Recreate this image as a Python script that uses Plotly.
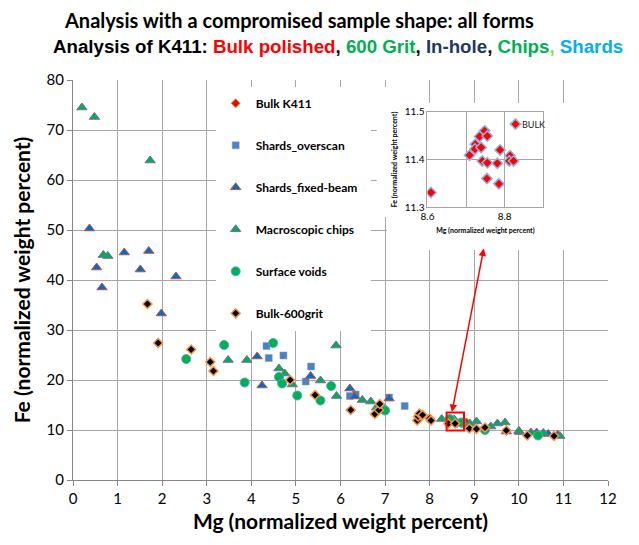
import plotly.graph_objects as go

# Polished bulk K411 reference measurements (Mg, Fe in normalized wt%)
bulk_k411_mg = [8.609, 8.709, 8.724, 8.723, 8.739, 8.735, 8.748, 8.755, 8.742, 8.755,
                8.754, 8.781, 8.785, 8.788, 8.814, 8.812, 8.823, 8.828]
bulk_k411_fe = [11.331, 11.409, 11.432, 11.422, 11.425, 11.448, 11.460, 11.449, 11.397, 11.393,
                11.360, 11.392, 11.349, 11.420, 11.408, 11.397, 11.397, 11.474]
bulk_label = "BULK"

overscan_mg = [4.34, 4.39, 4.72, 5.22, 5.34, 6.21, 6.34, 7.09, 7.44]
overscan_fe = [26.8, 24.4, 24.9, 19.7, 22.7, 16.8, 17.1, 16.5, 14.8]

fixed_beam_mg = [0.37, 1.15, 1.70, 0.53, 1.51, 2.31, 0.65, 1.98, 4.13, 4.24, 5.33, 6.21,
                 6.32, 7.09, 9.72, 10.02, 10.40, 10.66, 10.87]
fixed_beam_fe = [50.3, 45.5, 45.8, 42.5, 42.1, 40.7, 38.5, 33.3, 24.7, 18.9, 20.8, 18.3,
                 16.7, 16.3, 9.7, 9.6, 9.5, 9.2, 9.0]

chips_mg = [0.20, 0.48, 1.73, 0.68, 0.78, 3.48, 3.90, 4.62, 4.75, 4.92, 5.55, 5.90, 5.91,
            6.49, 6.68, 6.81, 8.27, 8.55, 8.90, 9.05, 9.37, 9.52, 9.69, 10.00, 10.27, 10.55, 10.92]
chips_fe = [74.5, 72.6, 63.9, 45.0, 44.8, 24.0, 24.0, 22.3, 21.3, 19.1, 19.9, 26.9, 16.8,
            16.0, 15.7, 14.5, 12.2, 12.1, 11.3, 11.7, 10.7, 11.3, 11.5, 9.8, 9.5, 9.4, 8.8]

voids_mg = [2.54, 3.39, 3.85, 4.49, 4.62, 4.69, 5.03, 5.55, 5.79, 6.95, 7.00, 8.45, 8.71,
            9.24, 10.43]
voids_fe = [24.2, 27.0, 19.5, 27.4, 20.6, 19.3, 16.9, 15.9, 18.8, 14.3, 13.9, 12.2, 11.5,
            10.0, 8.9]

grit600_mg = [1.67, 1.91, 2.65, 3.08, 3.15, 4.87, 5.43, 6.23, 6.77, 6.86, 6.88, 7.72, 7.74,
              7.77, 7.84, 8.00, 8.03, 8.42, 8.57, 8.89, 9.05, 9.24, 9.72, 10.19, 10.79]
grit600_fe = [35.2, 27.4, 26.1, 23.6, 21.8, 20.0, 17.0, 14.0, 13.2, 14.0, 15.2, 11.9, 12.7,
              13.3, 13.0, 12.3, 11.9, 11.3, 11.3, 10.3, 10.2, 10.5, 9.9, 8.9, 8.8]

x_ticks = list(range(0, 13))
y_ticks = list(range(0, 81, 10))
inset_x_ticks = [8.6, 8.7, 8.8, 8.9]
inset_x_labels = ["8.6", "", "8.8", ""]
inset_y_ticks = [11.3, 11.4, 11.5]
inset_y_labels = ["11.3", "11.4", "11.5"]

FONT = "Lato"
GRID = "#A6A6A6"

fig = go.Figure()

series = [
    ("Bulk K411", bulk_k411_mg, bulk_k411_fe,
     dict(symbol="diamond", size=7, color="#FF0000", line=dict(color="#9BBB59", width=1))),
    ("Shards_overscan", overscan_mg, overscan_fe,
     dict(symbol="square", size=7, color="#4F81BD", line=dict(color="#7E9FCC", width=0.5))),
    ("Shards_fixed-beam", fixed_beam_mg, fixed_beam_fe,
     dict(symbol="triangle-up", size=9, color="#0070C0", line=dict(color="#C0504D", width=1))),
    ("Macroscopic chips", chips_mg, chips_fe,
     dict(symbol="triangle-up", size=9, color="#00B050", line=dict(color="#8064A2", width=1))),
    ("Surface voids", voids_mg, voids_fe,
     dict(symbol="circle", size=9, color="#00B050", line=dict(color="#4BACC6", width=1))),
    ("Bulk-600grit", grit600_mg, grit600_fe,
     dict(symbol="diamond", size=7, color="#000000", line=dict(color="#F79646", width=1.5))),
]

for i, (name, xs, ys, marker) in enumerate(series):
    fig.add_trace(go.Scatter(x=xs, y=ys, mode="markers", name=name, marker=marker,
                             legendgroup=f"g{i}", xaxis="x", yaxis="y"))

# Zoomed view of the polished bulk cluster
fig.add_trace(go.Scatter(x=bulk_k411_mg, y=bulk_k411_fe, mode="markers", showlegend=False,
                         marker=dict(symbol="diamond", size=8, color="#FF0000",
                                     line=dict(color="#8EB4E3", width=1.5)),
                         xaxis="x2", yaxis="y2"))

# white panels behind the legend and the inset
panels = [
    (3.206, 6.68, 29.8, 78.6),
    (6.816, 7.33, 52.6, 78.6),
    (6.816, 12.2, 52.6, 75.4),
    (7.04, 12.2, 46.0, 52.6),
]
shapes = [dict(type="rect", xref="x", yref="y", x0=a, x1=b, y0=c, y1=d,
               fillcolor="white", line=dict(width=0), layer="between")
          for a, b, c, d in panels]
# highlight box around the bulk cluster
shapes.append(dict(type="rect", xref="x", yref="y", x0=8.38, x1=8.77, y0=9.9, y1=13.5,
                   line=dict(color="#FF0000", width=2), fillcolor="rgba(0,0,0,0)", layer="above"))

annotations = [
    dict(text="<b>Analysis with a compromised sample shape: all forms</b>",
         xref="paper", yref="paper", x=0.4224, y=1.15, showarrow=False,
         font=dict(family=FONT, size=20, color="black"), xanchor="center", yanchor="middle"),
    dict(text="<b>Analysis of K411: <span style='color:#FF0000'>Bulk polished</span>, "
              "<span style='color:#00B050'>600 Grit</span>, "
              "<span style='color:#1F3864'>In-hole</span>, "
              "<span style='color:#00B050'>Chips</span><span style='color:#92D050'>,</span> "
              "<span style='color:#00B0F0'>Shards</span></b>",
         xref="paper", yref="paper", x=0.495, y=1.0825, showarrow=False,
         font=dict(family="Liberation Sans", size=18.7, color="black"),
         xanchor="center", yanchor="middle"),
    dict(text="", xref="x", yref="y", x=8.50, y=13.6, axref="x", ayref="y", ax=9.22, ay=46.6,
         showarrow=True, arrowside="end+start", arrowhead=2, startarrowhead=2,
         arrowsize=1, startarrowsize=1, arrowwidth=1.5, arrowcolor="#FF0000"),
    dict(text=bulk_label, xref="x2", yref="y2", x=bulk_k411_mg[-1], y=bulk_k411_fe[-1],
         showarrow=False, xanchor="left", yanchor="middle", xshift=5,
         font=dict(family=FONT, size=9, color="#222222")),
]

fig.update_layout(
    width=639, height=545,
    margin=dict(l=73, r=31, t=80, b=65),
    paper_bgcolor="white", plot_bgcolor="white",
    font=dict(family=FONT, color="black"),
    showlegend=True,
    legend=dict(x=0.2667, y=0.978, xanchor="left", yanchor="top",
                bgcolor="rgba(0,0,0,0)", tracegroupgap=23,
                font=dict(family=FONT, size=12, color="black", weight="bold")),
    xaxis=dict(range=[0, 12], tickvals=x_ticks, showgrid=True, gridcolor=GRID, gridwidth=1,
               zeroline=False, showline=True, linecolor="#868686", ticks="outside", ticklen=5,
               tickcolor="#868686", tickfont=dict(family=FONT, size=15),
               title=dict(text="<b>Mg (normalized weight percent)</b>",
                          font=dict(family=FONT, size=21), standoff=8)),
    yaxis=dict(range=[0, 80], tickvals=y_ticks, showgrid=True, gridcolor=GRID, gridwidth=1,
               zeroline=False, showline=True, linecolor="#868686", ticks="outside", ticklen=5,
               tickcolor="#868686", tickfont=dict(family=FONT, size=15),
               title=dict(text="<b>Fe (normalized weight percent)</b>",
                          font=dict(family=FONT, size=21), standoff=10)),
    xaxis2=dict(domain=[0.6626, 0.879], anchor="y2", range=[8.6, 8.9],
                tickvals=inset_x_ticks, ticktext=inset_x_labels, showgrid=True, gridcolor=GRID,
                zeroline=False, showline=True, mirror=True, linecolor=GRID, ticks="",
                tickfont=dict(family=FONT, size=10),
                title=dict(text="<b>Mg (normalized weight percent)</b>",
                           font=dict(family=FONT, size=7), standoff=6)),
    yaxis2=dict(domain=[0.6818, 0.9208], anchor="x2", range=[11.3, 11.5],
                tickvals=inset_y_ticks, ticktext=inset_y_labels, showgrid=True, gridcolor=GRID,
                zeroline=False, showline=True, mirror=True, linecolor=GRID, ticks="",
                tickfont=dict(family=FONT, size=10),
                title=dict(text="<b>Fe (normalized weight percent)</b>",
                           font=dict(family=FONT, size=7), standoff=6)),
    shapes=shapes,
    annotations=annotations,
)

fig.write_html("out.html")
